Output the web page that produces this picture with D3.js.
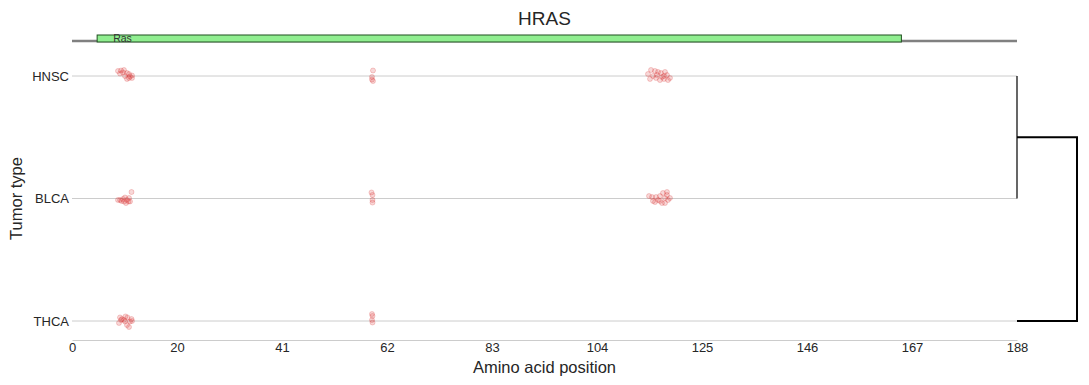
<!DOCTYPE html>
<html>
<head>
<meta charset="utf-8">
<script src="https://cdn.jsdelivr.net/npm/d3@7"></script>
<style>
    body { margin: 0; background: #fff; }
    text { font-family: 'Liberation Sans', Arial, sans-serif; fill: #262626; }
</style>
</head>
<body>
<div id="chart-wrapper"></div>
<script>
(function (d3) {

    var gene = 'HRAS';
    var proteinLength = 188;
    var tumorTypes = ['HNSC', 'BLCA', 'THCA'];
    var xTickLabels = [0, 20, 41, 62, 83, 104, 125, 146, 167, 188];

    var domains = [
        { name: 'Ras', start: 5, end: 165 }
    ];

    // mutation positions (aa) and strip jitter (in category units), per tumor type
    var hnscPos = [9.15, 9.75, 10.34, 9.55, 10.15, 10.94, 11.34, 11.94, 11.94, 10.94, 11.34, 10.54, 11.54,
        59.88, 59.68, 59.68, 59.88,
        115.19, 115.98, 116.58, 114.59, 115.58, 117.17, 117.77, 118.37, 118.96, 116.18, 116.97, 117.77, 114.99, 118.57, 116.38, 117.37, 117.97];
    var hnscJitter = [-0.041, -0.045, -0.049, -0.020, -0.029, -0.024, -0.016, -0.004, 0.016, 0.024, 0.016, 0, 0.004,
        -0.045, 0.008, 0.029, 0.041,
        -0.049, -0.041, -0.033, -0.016, 0, -0.024, 0, -0.008, 0.016, 0.016, 0.033, 0.024, 0.024, 0.033, -0.008, 0.008, -0.033];

    var blcaPos = [9.15, 9.55, 10.15, 10.54, 10.94, 11.24, 11.54, 11.84, 10.74, 10.34, 9.85, 11.34,
        59.58, 59.78, 59.78, 59.78,
        115.39, 116.18, 116.97, 117.57, 118.37, 116.58, 115.98, 117.97, 118.57, 117.37, 117.97, 118.96, 114.79, 116.97, 118.37, 115.58];
    var blcaJitter = [0.012, 0.012, 0.004, -0.008, 0.012, 0.024, 0.024, -0.053, 0.037, 0.024, 0.020, -0.004,
        -0.049, -0.029, 0.012, 0.033,
        -0.012, -0.012, -0.020, -0.045, -0.053, 0.012, 0.029, -0.004, 0.012, 0.037, 0.037, -0.004, -0.020, 0.020, -0.029, 0.020];

    var thcaPos = [9.55, 9.75, 10.64, 11.04, 11.84, 11.54, 10.54, 10.94, 11.34, 11.94, 10.34, 9.95, 9.35,
        59.68, 59.78, 59.68, 59.78];
    var thcaJitter = [-0.029, -0.008, -0.037, -0.029, -0.016, 0.004, 0.004, 0.033, 0.049, 0, -0.008, -0.016, 0.016,
        -0.057, -0.041, -0.008, 0.012];

    // dendrogram links: [left, right, height]; node 3 = (HNSC, BLCA)
    var linkage = [
        [0, 1, 0],
        [3, 2, 1]
    ];

    var width = 1089,
        height = 385;

    var margin = { left: 72, right: 1017 };

    var xScale = d3.scaleLinear().domain([0, proteinLength]).range([margin.left, margin.right]);
    var yScale = d3.scaleLinear().domain([0, 2]).range([76, 321]);
    var dScale = d3.scaleLinear().domain([0, 1]).range([margin.right, 1077]);

    var svg = d3.select('#chart-wrapper')
        .append('svg')
        .attr('width', width)
        .attr('height', height);

    // title
    svg.append('text')
        .attr('x', (margin.left + margin.right) / 2)
        .attr('y', 25)
        .attr('text-anchor', 'middle')
        .style('font-size', '19px')
        .text(gene);

    // protein track
    svg.append('line')
        .attr('x1', xScale(0))
        .attr('x2', xScale(proteinLength))
        .attr('y1', 41)
        .attr('y2', 41)
        .attr('stroke', '#808080')
        .attr('stroke-width', 2.5);

    var dom = svg.append('g');
    domains.forEach(function (item) {
        dom.append('rect')
            .attr('x', xScale(item.start))
            .attr('y', 35)
            .attr('width', xScale(item.end) - xScale(item.start))
            .attr('height', 7)
            .attr('fill', '#90ee90')
            .attr('stroke', '#1f4f1f')
            .attr('stroke-width', 1);
        dom.append('text')
            .attr('x', xScale(item.start) + 16)
            .attr('y', 41.5)
            .style('font-size', '10.5px')
            .style('fill', '#333')
            .text(item.name);
    });

    // row grid lines
    svg.append('g')
        .selectAll('line')
        .data(tumorTypes)
        .enter()
        .append('line')
        .attr('x1', xScale(0))
        .attr('x2', xScale(proteinLength))
        .attr('y1', function (d, i) { return yScale(i); })
        .attr('y2', function (d, i) { return yScale(i); })
        .attr('stroke', '#cccccc')
        .attr('stroke-width', 1);

    // x axis
    var xAxis = d3.axisBottom(xScale)
        .tickValues(d3.range(xTickLabels.length).map(function (i) {
            return proteinLength * i / (xTickLabels.length - 1);
        }))
        .tickFormat(function (d, i) { return xTickLabels[i]; })
        .tickSize(0)
        .tickPadding(3);

    var gx = svg.append('g')
        .attr('transform', 'translate(0,' + yScale(2.155) + ')')
        .call(xAxis);
    gx.select('.domain').attr('stroke', '#cccccc');
    gx.selectAll('text')
        .style('font-size', '13px')
        .style('fill', '#262626')
        .style('font-family', "'Liberation Sans', Arial, sans-serif");

    // y tick labels
    svg.append('g')
        .selectAll('text')
        .data(tumorTypes)
        .enter()
        .append('text')
        .attr('x', 69)
        .attr('y', function (d, i) { return yScale(i) + 4.5; })
        .attr('text-anchor', 'end')
        .style('font-size', '13px')
        .text(function (d) { return d; });

    // axis labels
    svg.append('text')
        .attr('x', (margin.left + margin.right) / 2)
        .attr('y', 373)
        .attr('text-anchor', 'middle')
        .style('font-size', '16.5px')
        .text('Amino acid position');

    svg.append('text')
        .attr('transform', 'translate(22,' + yScale(1) + ') rotate(-90)')
        .attr('text-anchor', 'middle')
        .style('font-size', '16.5px')
        .text('Tumor type');

    // mutation strips
    var strips = [
        [hnscPos, hnscJitter],
        [blcaPos, blcaJitter],
        [thcaPos, thcaJitter]
    ];

    var points = svg.append('g');
    strips.forEach(function (strip, row) {
        strip[0].forEach(function (pos, index) {
            points.append('circle')
                .attr('cx', xScale(pos))
                .attr('cy', yScale(row + strip[1][index]))
                .attr('r', 2.5)
                .attr('fill', '#d62728')
                .attr('fill-opacity', 0.18)
                .attr('stroke', '#d62728')
                .attr('stroke-opacity', 0.28)
                .attr('stroke-width', 0.8);
        });
    });

    // dendrogram
    var nodes = tumorTypes.map(function (d, i) {
        return { y: yScale(i), h: 0 };
    });
    var dendro = svg.append('g');
    linkage.forEach(function (link, index) {
        var a = nodes[link[0]],
            b = nodes[link[1]],
            h = link[2];
        var path = d3.path();
        path.moveTo(dScale(a.h), a.y);
        path.lineTo(dScale(h), a.y);
        path.lineTo(dScale(h), b.y);
        path.lineTo(dScale(b.h), b.y);
        dendro.append('path')
            .attr('d', path.toString())
            .attr('fill', 'none')
            .attr('stroke', '#000')
            .attr('stroke-width', h === 0 ? 1.2 : 2);
        nodes.push({ y: (a.y + b.y) / 2, h: h });
    });

})(d3);
</script>
</body>
</html>
